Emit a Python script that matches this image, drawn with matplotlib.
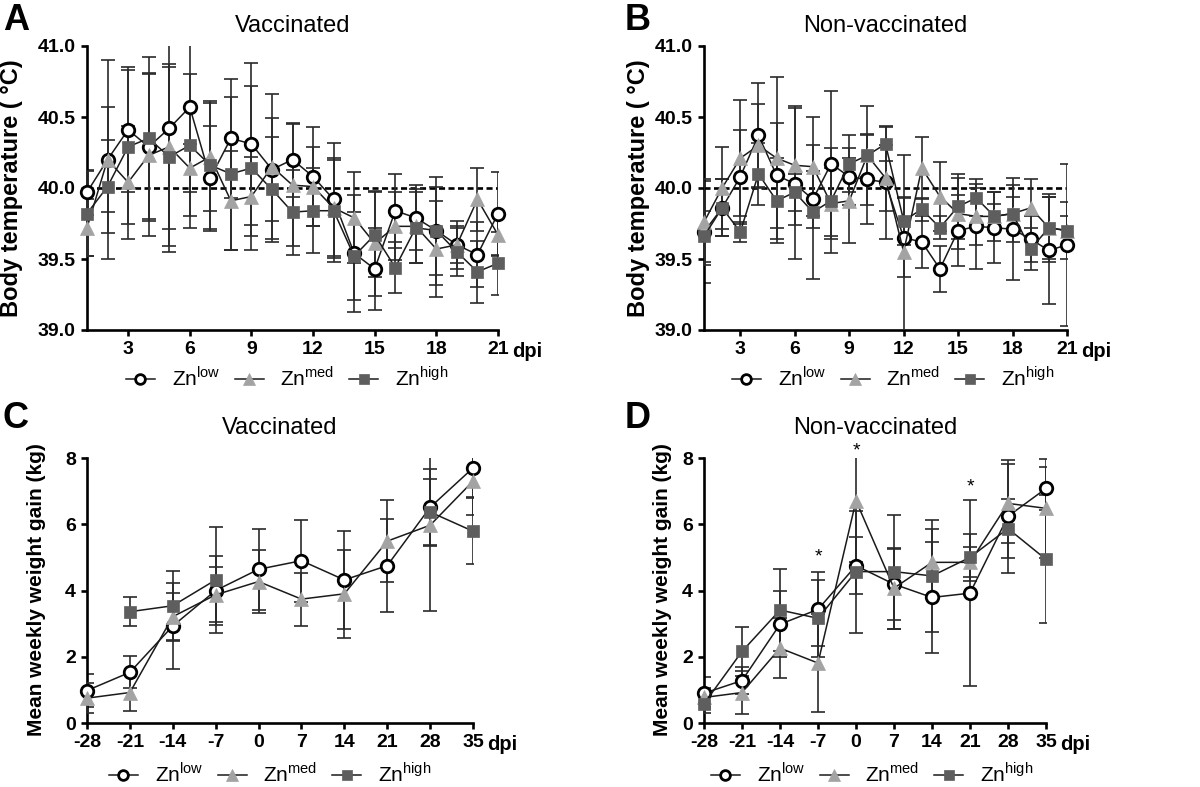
import numpy as np
import matplotlib
matplotlib.use("Agg")
import matplotlib.pyplot as plt
from matplotlib.lines import Line2D

plt.rcParams['font.family'] = ['Liberation Sans', 'DejaVu Sans']
plt.rcParams['mathtext.fontset'] = 'custom'
plt.rcParams['mathtext.rm'] = 'Liberation Sans'
plt.rcParams['axes.unicode_minus'] = False

nan = np.nan
# ---------------- data ----------------
days = list(range(1, 22))
temp_ticks = [3, 6, 9, 12, 15, 18, 21]

# Panel A: vaccinated body temperature
A_low = [39.97, 40.20, 40.41, 40.29, 40.42, 40.57, 40.07, 40.35, 40.31, 40.13, 40.20,
         40.08, 39.92, 39.54, 39.43, 39.84, 39.79, 39.70, 39.60, 39.53, 39.82]
A_med = [39.72, 40.20, 40.04, 40.23, 40.29, 40.14, 40.22, 39.91, 39.94, 40.15, 40.02,
         40.01, 39.86, 39.79, 39.61, 39.73, 39.73, 39.57, 39.60, 39.92, 39.67]
A_high = [39.82, 40.01, 40.29, 40.35, 40.22, 40.30, 40.16, 40.10, 40.14, 39.99, 39.83,
          39.84, 39.84, 39.52, 39.67, 39.44, 39.72, 39.70, 39.55, 39.41, 39.47]
A_low_err = [0.16, 0.70, 0.44, 0.52, 0.87, 0.85, 0.37, 0.42, 0.57, 0.36, 0.26,
             0.35, 0.40, 0.41, 0.29, 0.26, 0.23, 0.31, 0.17, 0.23, 0.29]
A_med_err = [0.20, 0.37, 0.40, 0.57, 0.58, 0.17, 0.38, 0.35, 0.28, 0.51, 0.43,
             0.28, 0.35, 0.32, 0.37, 0.24, 0.26, 0.34, 0.13, 0.22, 0.15]
A_high_err = [0.30, 0.33, 0.54, 0.57, 0.63, 0.50, 0.45, 0.54, 0.58, 0.37, 0.30,
              0.30, 0.36, 0.31, 0.30, 0.18, 0.25, 0.38, 0.17, 0.22, 0.22]

# Panel B: non-vaccinated body temperature
B_low = [39.69, 39.86, 40.08, 40.37, 40.09, 40.03, 39.92, 40.17, 40.08, 40.06, 40.04,
         39.65, 39.62, 39.43, 39.70, 39.73, 39.72, 39.71, 39.64, 39.56, 39.60]
B_med = [39.76, 40.00, 40.21, 40.30, 40.21, 40.16, 40.15, 39.89, 39.91, 40.23, 40.07,
         39.55, 40.14, 39.94, 39.82, 39.80, 39.80, 39.82, 39.86, 39.72, 39.70]
B_high = [39.66, 39.86, 39.69, 40.10, 39.91, 39.97, 39.83, 39.91, 40.17, 40.23, 40.31,
          39.77, 39.85, 39.72, 39.87, 39.93, 39.80, 39.82, 39.57, 39.72, 39.70]
B_low_err = [0.36, 0.20, 0.33, 0.37, 0.37, 0.53, 0.20, 0.51, 0.20, 0.31, 0.40,
             0.28, 0.18, 0.16, 0.25, 0.30, 0.25, 0.36, 0.16, 0.38, 0.57]
B_med_err = [0.30, 0.29, 0.41, 0.29, 0.57, 0.42, 0.35, 0.25, 0.30, 0.15, 0.23,
             0.68, 0.22, 0.24, 0.25, 0.20, 0.09, 0.12, 0.20, 0.24, 0.10]
B_high_err = [0.18, 0.20, 0.07, 0.22, 0.30, 0.13, 0.47, 0.37, 0.20, 0.35, 0.12,
              0.17, 0.08, 0.08, 0.23, 0.13, 0.17, 0.20, 0.15, 0.22, 0.20]

# Panels C, D: mean weekly weight gain
weeks = [-28, -21, -14, -7, 0, 7, 14, 21, 28, 35]
C_low = [0.98, 1.53, 2.93, 4.00, 4.64, 4.90, 4.32, 4.75, 6.51, 7.70]
C_med = [0.75, 0.92, 3.21, 3.87, 4.27, 3.74, 3.90, 5.49, 5.97, 7.30]
C_high = [nan, 3.36, 3.54, 4.32, nan, nan, nan, nan, 6.37, 5.79]
C_low_err = [0.50, 0.48, 1.29, 1.04, 1.23, 1.24, 1.48, 1.40, 1.17, 0.89]
C_med_err = [0.45, 0.57, 0.70, 0.83, 0.95, 0.80, 1.32, 1.24, 2.60, 1.02]
C_high_err = [nan, 0.44, 1.05, 1.60, nan, nan, nan, nan, 1.00, 0.99]

D_low = [0.90, 1.28, 2.98, 3.43, 4.75, 4.19, 3.79, 3.92, 6.24, 7.08]
D_med = [0.77, 0.92, 2.26, 1.81, 6.71, 4.07, 4.85, 4.85, 6.63, 6.48]
D_high = [0.58, 2.16, 3.41, 3.16, 4.57, 4.57, 4.44, 5.00, 5.87, 4.94]
D_low_err = [0.49, 0.40, 1.00, 1.12, 0.87, 1.07, 1.68, 2.80, 1.71, 0.65]
D_med_err = [0.30, 0.65, 0.90, 1.48, 1.84, 1.22, 1.00, 0.45, 1.20, 1.50]
D_high_err = [0.28, 0.73, 1.23, 1.16, 1.84, 1.72, 1.70, 0.70, 0.90, 1.93]
D_star_x = [-7, 0, 21]
D_star_y = [5.0, 8.22, 7.12]

labels = [r'Zn$^{\mathregular{low}}$', r'Zn$^{\mathregular{med}}$', r'Zn$^{\mathregular{high}}$']

# ---------------- styles ----------------
W, H = 1200, 787
fig = plt.figure(figsize=(12, 7.87), dpi=100)

def fx(px):
    return px / W

def fy(py):
    return 1 - py / H

styles = [
    dict(marker='o', ms=9, mfc='white', mec='black', mew=2.0),
    dict(marker='^', ms=9.5, mfc='#a3a3a3', mec='#a3a3a3', mew=0.5),
    dict(marker='s', ms=8.5, mfc='#5e5e5e', mec='#5e5e5e', mew=0.5),
]
leg_styles = [
    dict(marker='o', ms=7, mfc='white', mec='black', mew=2.0),
    dict(marker='^', ms=8, mfc='#a3a3a3', mec='#a3a3a3', mew=0.5),
    dict(marker='s', ms=7, mfc='#5e5e5e', mec='#5e5e5e', mew=0.5),
]

def make_ax(l, t, r, b):
    ax = fig.add_axes([fx(l), fy(b), fx(r - l), fy(t) - fy(b)])
    for s in ['top', 'right']:
        ax.spines[s].set_visible(False)
    for s in ['left', 'bottom']:
        ax.spines[s].set_linewidth(1.9)
    ax.tick_params(width=1.9, length=4.5, pad=3.5, labelsize=14)
    return ax

def draw_series(ax, x, ys, errs):
    for i, (y, e) in enumerate(zip(ys, errs)):
        ax.errorbar(x, y, yerr=e, fmt='none', ecolor='#2a2a2a', elinewidth=1.2,
                    capsize=5, capthick=1.2, zorder=2 + i)
    for i, y in enumerate(ys):
        ax.plot(x, y, color='#1a1a1a', lw=1.1, zorder=5 + i, clip_on=False,
                **styles[i])

def bold_ticks(ax):
    for lab in ax.get_xticklabels() + ax.get_yticklabels():
        lab.set_fontweight('bold')

def add_dpi(ax):
    ax.annotate('dpi', xy=(1, 0), xycoords='axes fraction', xytext=(10, -8.5),
                textcoords='offset points', ha='left', va='top', fontsize=14.5,
                fontweight='bold')

def add_legend(cx, cy):
    handles = [Line2D([], [], color='#1a1a1a', lw=1.1, **leg_styles[i]) for i in range(3)]
    fig.legend(handles, labels, loc='center', bbox_to_anchor=(fx(cx), fy(cy)),
               ncol=3, frameon=False, fontsize=15, handlelength=1.4,
               handletextpad=0.8, columnspacing=0.7, borderpad=0.1)

# ---------------- Panel A & B ----------------
for (l, r, data, errs, title, letter, lx, ylx, legx) in [
        (87, 498, (A_low, A_med, A_high), (A_low_err, A_med_err, A_high_err),
         'Vaccinated', 'A', 3, 12, 287),
        (704, 1067, (B_low, B_med, B_high), (B_low_err, B_med_err, B_high_err),
         'Non-vaccinated', 'B', 625, 638, 893)]:
    ax = make_ax(l, 46, r, 330)
    ax.set_xlim(1, 21)
    ax.set_ylim(39.0, 41.0)
    ax.set_xticks(temp_ticks)
    ax.set_yticks([39.0, 39.5, 40.0, 40.5, 41.0])
    ax.set_yticklabels(['39.0', '39.5', '40.0', '40.5', '41.0'])
    ax.axhline(40.0, color='black', lw=1.9, dashes=(2.3, 1.3), zorder=1)
    draw_series(ax, days, data, errs)
    bold_ticks(ax)
    add_dpi(ax)
    fig.text(fx((l + r) / 2), fy(26), title, ha='center', va='center', fontsize=17)
    fig.text(fx(lx), fy(3), letter, ha='left', va='top', fontsize=26, fontweight='bold')
    fig.text(fx(ylx), fy(188), 'Body temperature ( \u00b0C)', rotation=90, ha='center',
             va='center', fontsize=17, fontweight='bold')
    add_legend(legx, 378)

# ---------------- Panel C & D ----------------
for (l, r, data, errs, title, letter, lx, ylx, legx, stars) in [
        (87, 473, (C_low, C_med, C_high), (C_low_err, C_med_err, C_high_err),
         'Vaccinated', 'C', 3, 37, 270, False),
        (704, 1046, (D_low, D_med, D_high), (D_low_err, D_med_err, D_high_err),
         'Non-vaccinated', 'D', 625, 663, 872, True)]:
    ax = make_ax(l, 458, r, 723)
    ax.set_xlim(-28, 35)
    ax.set_ylim(0, 8)
    ax.set_xticks(weeks)
    ax.set_yticks([0, 2, 4, 6, 8])
    draw_series(ax, weeks, data, errs)
    bold_ticks(ax)
    add_dpi(ax)
    fig.text(fx((l + r) / 2), fy(428), title, ha='center', va='center', fontsize=17)
    fig.text(fx(lx), fy(401), letter, ha='left', va='top', fontsize=26, fontweight='bold')
    fig.text(fx(ylx), fy(590), 'Mean weekly weight gain (kg)', rotation=90, ha='center',
             va='center', fontsize=15, fontweight='bold')
    if stars:
        for sx, sy in zip(D_star_x, D_star_y):
            ax.text(sx, sy, '*', ha='center', va='center', fontsize=14, clip_on=False)
    add_legend(legx, 774)

fig.savefig('out.png', dpi=100)
